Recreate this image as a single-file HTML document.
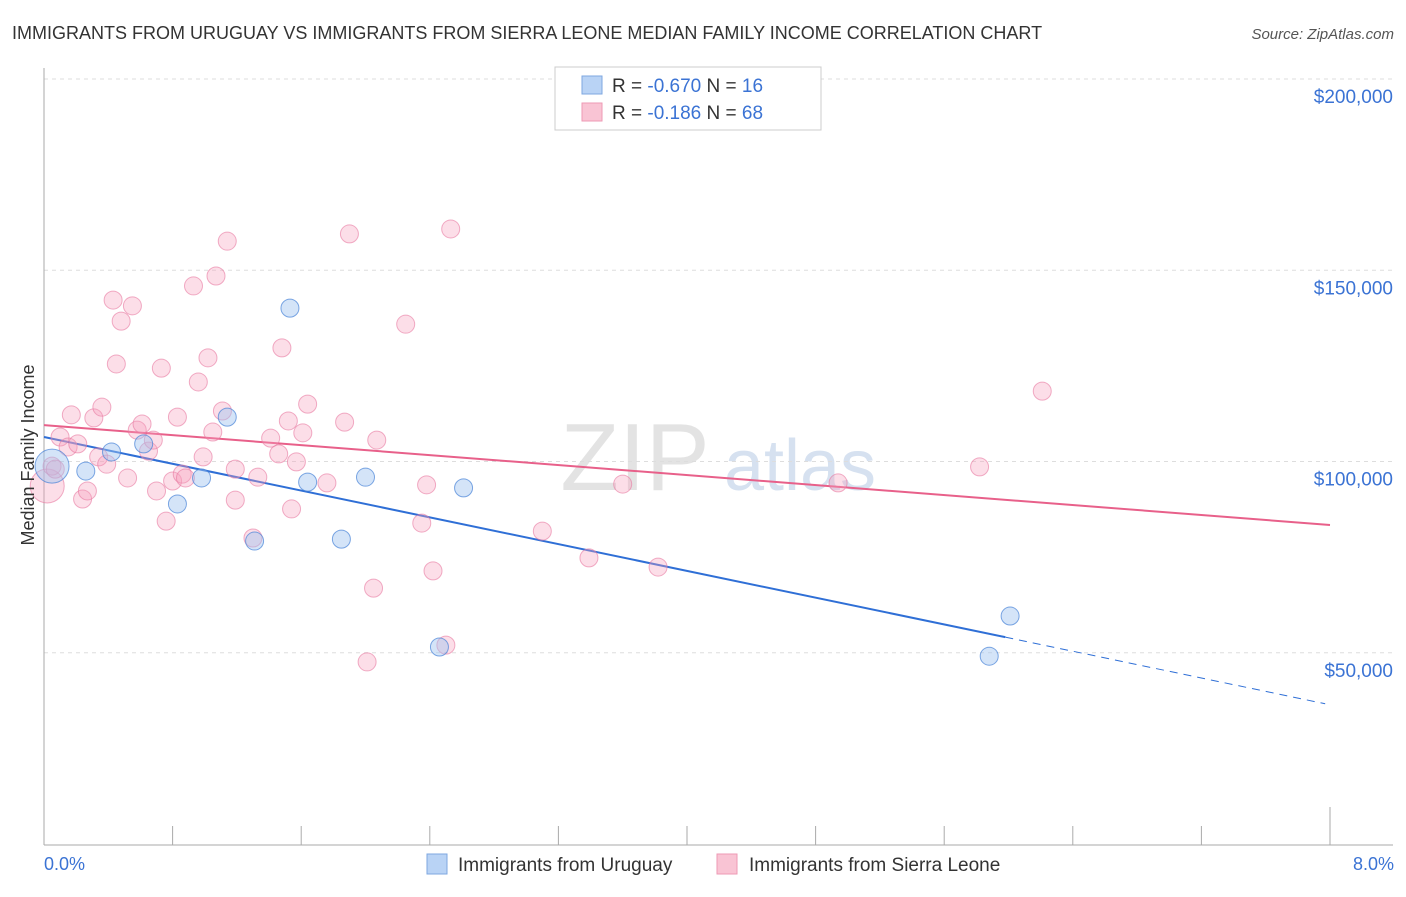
<!DOCTYPE html>
<html><head><meta charset="utf-8"><style>
body{margin:0;background:#fff;font-family:"Liberation Sans",sans-serif;}
svg text{font-family:"Liberation Sans",sans-serif;}
</style></head><body>
<svg id="chart" width="1406" height="892" xmlns="http://www.w3.org/2000/svg">
<text x="12" y="39" font-size="18" fill="#333">IMMIGRANTS FROM URUGUAY VS IMMIGRANTS FROM SIERRA LEONE MEDIAN FAMILY INCOME CORRELATION CHART</text>
<text x="1394" y="39" font-size="15" fill="#555" text-anchor="end" font-style="italic">Source: ZipAtlas.com</text>
<g>
<text x="635" y="490" font-size="96" fill="#d8d8d8" font-family="Liberation Serif" text-anchor="middle" opacity="0.7">ZIP</text>
<text x="800" y="490" font-size="72" fill="#c5d5ea" text-anchor="middle" opacity="0.7">atlas</text>
</g>
<g id="grid"></g>
<g id="axes"></g>
<g id="trends"></g>
<g id="points"></g>
<text transform="translate(34,455) rotate(-90)" font-size="18" fill="#333" text-anchor="middle">Median Family Income</text>
<text x="44" y="870" font-size="18" fill="#3b73d4">0.0%</text>
<text x="1394" y="870" font-size="18" fill="#3b73d4" text-anchor="end">8.0%</text>
<g>
<rect x="555" y="67" width="266" height="63" fill="#fff" stroke="#ccc"/>
<rect x="582" y="76" width="20" height="18" fill="#b9d3f5" stroke="#7ea7e0"/>
<rect x="582" y="103" width="20" height="18" fill="#f9c4d4" stroke="#ee9ab4"/>
<text x="612" y="92" font-size="19" fill="#333">R = <tspan fill="#3b73d4">-0.670</tspan>   N = <tspan fill="#3b73d4">16</tspan></text>
<text x="612" y="119" font-size="19" fill="#333">R =  <tspan fill="#3b73d4">-0.186</tspan>   N = <tspan fill="#3b73d4">68</tspan></text>
</g>
<g>
<rect x="427" y="854" width="20" height="20" fill="#b9d3f5" stroke="#7ea7e0"/>
<text x="458" y="871" font-size="19" fill="#333">Immigrants from Uruguay</text>
<rect x="717" y="854" width="20" height="20" fill="#f9c4d4" stroke="#ee9ab4"/>
<text x="749" y="871" font-size="19" fill="#333">Immigrants from Sierra Leone</text>
</g>
</svg>
<script>
const yTicks=[50000,100000,150000,200000];
const yTickLabels=["$50,000","$100,000","$150,000","$200,000"];
const xTicks=[0,0.8,1.6,2.4,3.2,4.0,4.8,5.6,6.4,7.2,8.0];
const uruguayX=[0.05,0.26,0.42,0.62,0.83,0.98,1.14,1.31,1.53,1.64,1.85,2.00,2.46,2.61,5.88,6.01];
const uruguayY=[98800,97500,102500,104600,88900,95700,111600,79200,140100,94600,79700,95900,51500,93100,49100,59600];
const uruguaySize=[17,9,9,9,9,9,9,9,9,9,9,9,9,9,9,9];
const sierraX=[0.02,0.05,0.07,0.10,0.15,0.17,0.21,0.24,0.27,0.31,0.34,0.36,0.39,0.43,0.45,0.48,0.52,0.55,0.58,0.61,0.65,0.68,0.70,0.73,0.76,0.80,0.83,0.86,0.88,0.93,0.96,0.99,1.02,1.05,1.07,1.11,1.14,1.19,1.19,1.30,1.33,1.41,1.46,1.48,1.52,1.54,1.57,1.61,1.64,1.76,1.87,1.90,2.01,2.05,2.07,2.25,2.35,2.38,2.42,2.50,2.53,3.10,3.39,3.60,3.82,4.94,5.82,6.21];
const sierraY=[93600,98800,98000,106400,103800,112200,104600,90200,92300,111400,101200,114200,99300,142200,125500,136700,95700,140700,108200,109800,102700,105600,92300,124400,84400,94900,111600,96700,95700,145900,120800,101200,127100,107700,148500,113200,157600,89900,98000,80000,95900,106100,102000,129700,110600,87600,99900,107500,115000,94400,110300,159500,47600,66900,105600,135900,83900,93900,71400,52000,160800,81800,74800,94100,72400,94400,98600,118400];
const sierraSize=[17].concat(Array(67).fill(9));
const uruguayTrend=[106400,36400]; // value at 0% and 8%
const uruguaySolidEnd=7.47/1.0*0+5.98;
const sierraTrend=[109500,83400];

const X0=44,X1=1330,Y0=844,Y1=79;
const xs=v=>X0+(v/8)*(X1-X0);
const ys=v=>Y0-(v/200000)*(Y0-Y1);
const NS="http://www.w3.org/2000/svg";
function mk(tag,attrs,parent){const e=document.createElementNS(NS,tag);for(const k in attrs)e.setAttribute(k,attrs[k]);parent.appendChild(e);return e;}
const grid=document.getElementById('grid'),axes=document.getElementById('axes'),trends=document.getElementById('trends'),pts=document.getElementById('points');
yTicks.forEach((t,i)=>{
  const l=mk('line',{x1:X0,x2:1393,y1:ys(t),y2:ys(t),stroke:'#ddd','stroke-dasharray':'4 4'},grid);
  
  
  const tx=mk('text',{x:1393,y:ys(t)+24,'font-size':19,fill:'#3b73d4','text-anchor':'end'},grid);
  tx.textContent=yTickLabels[i];
  
  
});
const ya=mk('line',{x1:X0,x2:X0,y1:68,y2:Y0+1,stroke:'#aaa'},axes);


const xa=mk('line',{x1:X0,x2:1393,y1:Y0+1,y2:Y0+1,stroke:'#aaa'},axes);


xTicks.forEach((t,i)=>{
  const tl=mk('line',{x1:xs(t),x2:xs(t),y1:(i==xTicks.length-1?807:826),y2:Y0+1,stroke:'#aaa'},axes);
  
  
});
// trend lines
const sl=mk('line',{x1:xs(0),y1:ys(sierraTrend[0]),x2:xs(8),y2:ys(sierraTrend[1]),stroke:'#e8608a','stroke-width':2},trends);


const ub=v=>uruguayTrend[0]+(uruguayTrend[1]-uruguayTrend[0])*v/8;
const ul=mk('line',{x1:xs(0),y1:ys(ub(0)),x2:xs(uruguaySolidEnd),y2:ys(ub(uruguaySolidEnd)),stroke:'#2f6fd6','stroke-width':2},trends);


const ud=mk('line',{x1:xs(uruguaySolidEnd),y1:ys(ub(uruguaySolidEnd)),x2:xs(7.97),y2:ys(ub(7.97)),stroke:'#2f6fd6','stroke-width':1,'stroke-dasharray':'8 6'},trends);


sierraX.forEach((x,i)=>{
  const c=mk('circle',{cx:xs(x),cy:ys(sierraY[i]),r:sierraSize[i],fill:'rgba(245,160,190,0.35)',stroke:'rgba(232,120,160,0.6)','stroke-width':1},pts);
  
  
});
uruguayX.forEach((x,i)=>{
  const c=mk('circle',{cx:xs(x),cy:ys(uruguayY[i]),r:uruguaySize[i],fill:'rgba(160,195,240,0.45)',stroke:'rgba(70,130,215,0.7)','stroke-width':1},pts);
  
  
});
</script>
</body></html>
